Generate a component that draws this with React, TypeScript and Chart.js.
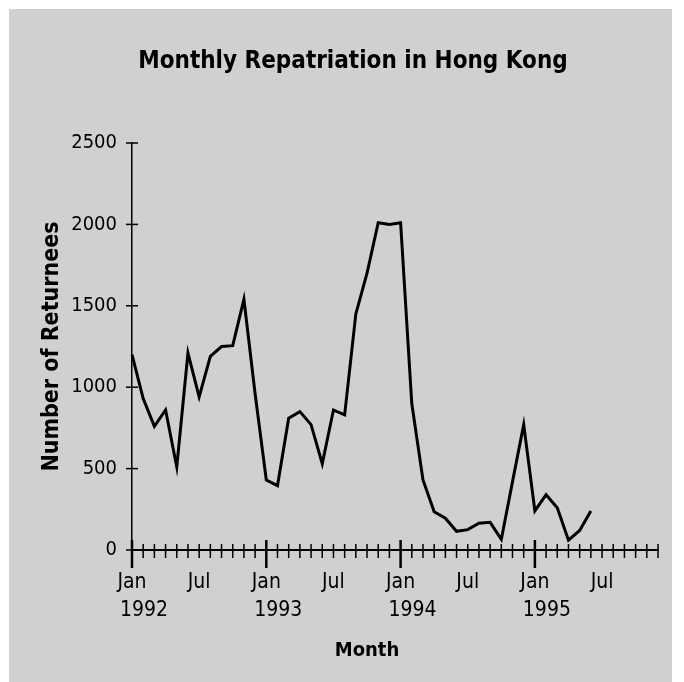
import React, { useEffect, useRef } from 'react';
import { Chart, registerables } from 'chart.js';

Chart.register(...registerables);

const years = ['1992', '1993', '1994', '1995'];
const monthNames = ['Jan', 'Feb', 'Mar', 'Apr', 'May', 'Jun', 'Jul', 'Aug', 'Sep', 'Oct', 'Nov', 'Dec'];
const returnees1992 = [1200, 930, 760, 860, 510, 1210, 940, 1190, 1250, 1255, 1540, 960];
const returnees1993 = [430, 395, 810, 850, 770, 530, 860, 830, 1450, 1700, 2010, 2000];
const returnees1994 = [2010, 900, 430, 235, 195, 115, 125, 165, 170, 65, 420, 770];
const returnees1995 = [240, 340, 260, 60, 120, 240];
const yTicks = [0, 500, 1000, 1500, 2000, 2500];

const months = years.flatMap((yr) => monthNames.map((m) => `${m} ${yr}`));
const values = [...returnees1992, ...returnees1993, ...returnees1994, ...returnees1995];

const FONT = '"DejaVu Sans Condensed", "Liberation Sans Narrow", "Liberation Sans", sans-serif';

const decorPlugin = {
  id: 'decor',
  beforeDraw(chart: any) {
    const ctx = chart.ctx;
    ctx.save();
    ctx.fillStyle = '#d0d0d0';
    ctx.fillRect(9, 9, 663, 673);
    ctx.restore();
  },
  afterDraw(chart: any) {
    const { ctx, scales } = chart;
    const x = scales.x;
    const y = scales.y;
    ctx.save();
    ctx.strokeStyle = '#000';
    ctx.lineWidth = 1.5;
    yTicks.forEach((v) => {
      const py = y.getPixelForValue(v);
      ctx.beginPath();
      ctx.moveTo(x.left - 6, py);
      ctx.lineTo(x.left + 6, py);
      ctx.stroke();
    });
    months.forEach((_m, i) => {
      const px = x.getPixelForValue(i);
      const major = i % 12 === 0;
      ctx.lineWidth = major ? 2.5 : 1.5;
      ctx.beginPath();
      ctx.moveTo(px, y.bottom - (major ? 10 : 6));
      ctx.lineTo(px, y.bottom + (major ? 18 : 8));
      ctx.stroke();
    });
    ctx.fillStyle = '#000';
    ctx.font = `bold 20px ${FONT}`;
    ctx.textAlign = 'center';
    ctx.textBaseline = 'middle';
    ctx.fillText('Month', (x.left + x.right) / 2 - 28, 651);
    ctx.restore();
  },
};

export default function App() {
  const ref = useRef<HTMLCanvasElement>(null);
  useEffect(() => {
    if (!ref.current) return;
    const chart = new Chart(ref.current, {
      type: 'line',
      data: {
        labels: months,
        datasets: [
          {
            label: 'Number of Returnees',
            data: values,
            borderColor: '#000',
            borderWidth: 3,
            pointRadius: 0,
            tension: 0,
            fill: false,
          },
        ],
      },
      plugins: [decorPlugin],
      options: {
        responsive: false,
        animation: false,
        layout: { padding: { left: 48, right: 26, top: 0, bottom: 0 } },
        plugins: {
          legend: { display: false },
          tooltip: { enabled: false },
          title: {
            display: true,
            text: 'Monthly Repatriation in Hong Kong',
            color: '#000',
            font: { family: FONT, size: 24, weight: 'bold', lineHeight: 1.2 },
            padding: { top: 47.6, bottom: 66.6 },
          },
        },
        scales: {
          x: {
            type: 'category',
            offset: false,
            grid: { display: false, drawTicks: false },
            border: { display: true, color: '#000', width: 2 },
            afterFit: (s: any) => {
              s.height = 132;
            },
            ticks: {
              autoSkip: false,
              maxRotation: 0,
              minRotation: 0,
              padding: 19,
              color: '#000',
              font: { family: FONT, size: 21, lineHeight: 1.33 },
              callback: (_v: any, i: number) => {
                if (i % 12 === 0) return [monthNames[0], '    ' + years[i / 12]];
                if (i % 12 === 6) return monthNames[6];
                return '';
              },
            },
          },
          y: {
            min: 0,
            max: 2500,
            grid: { display: false, drawTicks: false },
            border: { display: true, color: '#000', width: 1.5 },
            afterFit: (s: any) => {
              s.width = 84;
            },
            ticks: {
              stepSize: 500,
              padding: 15,
              color: '#000',
              font: { family: FONT, size: 20 },
              callback: (v: any) => String(v),
            },
            title: {
              display: true,
              text: 'Number of Returnees',
              color: '#000',
              font: { family: FONT, size: 23, weight: 'bold', lineHeight: 1.2 },
              padding: { top: -9.8, bottom: 0 },
            },
          },
        },
      },
    });
    return () => chart.destroy();
  }, []);
  return (
    <div style={{ position: 'absolute', left: 0, top: 0, width: 684, height: 682 }}>
      <canvas ref={ref} width={684} height={682} style={{ display: 'block' }} />
    </div>
  );
}
